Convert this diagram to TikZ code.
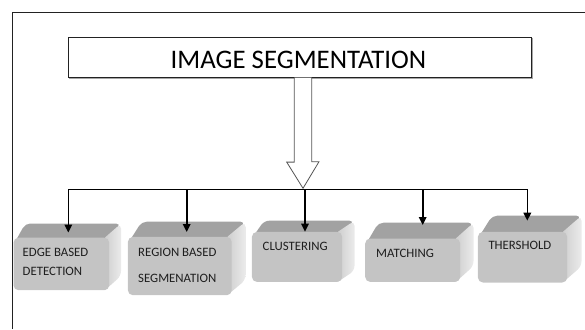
\documentclass[tikz,border=0pt]{standalone}
\usepackage{fontspec}
\setmainfont{Carlito}
\usetikzlibrary{arrows.meta,calc}
\definecolor{framec}{HTML}{222222}
\definecolor{facec}{HTML}{C4C4C4}
\definecolor{topc}{HTML}{A2A2A2}
\definecolor{sidel}{HTML}{CFCFCF}
\definecolor{sider}{HTML}{EBEBEB}
\definecolor{txtc}{HTML}{1E1E1E}
\definecolor{hollowc}{HTML}{555555}
\newcommand\cubebox[7]{%
  \fill[topc] (#2+2,#3+4) [rounded corners=5pt] -- (#2+#6,#3-#7) -- (#4+#6,#3-#7) [sharp corners] -- (#4-2,#3+4) -- cycle;
  \shade[left color=sidel, right color=sider] (#4-4,#3) [rounded corners=5pt] -- (#4+#6,#3-#7) -- (#4+#6,#5-#7) [sharp corners] -- (#4-4,#5) -- cycle;
  \node[face, minimum width={#4-#2}, minimum height={#5-#3}] (#1) at (#2,#3) {};
}
\tikzset{
  face/.style={rectangle, rounded corners=5pt, fill=facec, draw=none, anchor=north west, inner sep=0pt},
  lbl/.style={anchor=base west, inner sep=0pt, font=\fontsize{12.8}{14}\selectfont, text=txtc},
  arr/.style={draw=black, line width=1.6pt, -{Triangle[width=7.5pt,length=8pt]}},
  bus/.style={draw=black, line width=1pt},
  hollow/.style={draw=hollowc, line width=0.8pt, fill=white, line join=miter},
  titlebox/.style={rectangle, draw=framec, line width=0.8pt, inner sep=0pt}
}
\begin{document}
\begin{tikzpicture}[x=1pt, y=-1pt]
\useasboundingbox (0,0) rectangle (585,329);
% frame
\draw[framec, line width=0.9pt] (12.3,329) -- (12.3,12.3) -- (585,12.3);
% title
\draw[gray!70, line width=1pt] (532.4,38) -- (532.4,78) -- (69,78);
\node[titlebox, minimum width=463.4pt, minimum height=40pt] (title) at (300,57.3) {};
\node[anchor=base, inner sep=0pt, font=\fontsize{26.8}{30}\selectfont, text=black] (titletext) at (298.5,68.3) {IMAGE SEGMENTATION};
% hollow arrow
\coordinate (htip) at (303,188.3);
\coordinate (hs) at (title.south -| htip);
\draw[hollow] ($(hs)+(-8.7,0)$) -- ++(0,84.4) -- ++(-7.6,0) -- (htip) -- ++(16,-26.6) -- ++(-7.3,0) -- ($(hs)+(8.7,0)$);
% bus
\coordinate (c1) at (68.3,189);
\coordinate (c2) at (186.7,189);
\coordinate (c3) at (305,189);
\coordinate (c4) at (422.7,189);
\coordinate (c5) at (527.3,189);
\draw[bus] (c1) -- (c5);
% boxes
\cubebox{b1}{13.3}{237.5}{109}{290}{12}{14}
\cubebox{b2}{127.7}{236.7}{231.5}{295}{14}{15}
\cubebox{b3}{251.7}{231.7}{342}{281.7}{12.5}{11}
\cubebox{b4}{365}{238.3}{460}{281.7}{13.5}{15.6}
\cubebox{b5}{477.7}{231.7}{567}{282.3}{14.5}{16}
% arrows
\coordinate (e1) at (68.3,232.5);
\coordinate (e2) at (186.7,232);
\coordinate (e3) at (305,231.7);
\coordinate (e4) at (422.7,225);
\coordinate (e5) at (527.3,220.7);
\draw[arr] (c1) -- (e1);
\draw[arr] (c2) -- (e2);
\draw[arr] (c3) -- (e3);
\draw[arr] (c4) -- (e4);
\draw[arr] (c5) -- (e5);
% labels
\node[lbl] (t1a) at (22.5,256.7) {EDGE BASED};
\node[lbl] (t1b) at (22.5,275) {DETECTION};
\node[lbl] (t2a) at (138,256.5) {REGION BASED};
\node[lbl] (t2b) at (138,282.7) {SEGMENATION};
\node[lbl] (t3) at (262.5,250) {CLUSTERING};
\node[lbl] (t4) at (376,257.3) {MATCHING};
\node[lbl] (t5) at (488.3,249.5) {THERSHOLD};
\end{tikzpicture}
\end{document}
